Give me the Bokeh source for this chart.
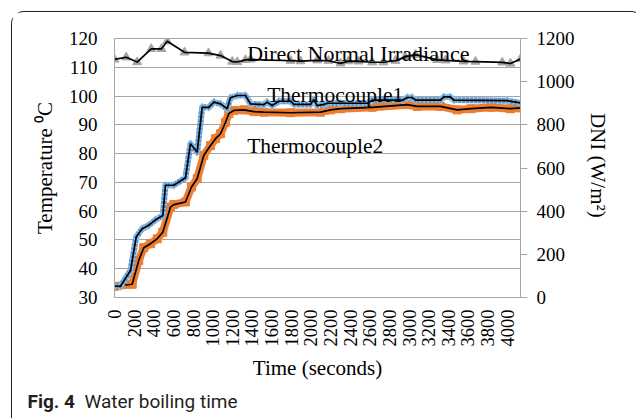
import math
from bokeh.plotting import figure
from bokeh.layouts import column
from bokeh.models import Range1d, LinearAxis, FixedTicker, Label, Div
from bokeh.embed import file_html
from bokeh.resources import INLINE

# ---- data ----
x_ticks = list(range(0, 4001, 200))
temp_ticks = list(range(30, 121, 10))
dni_ticks = list(range(0, 1201, 200))

dni_time = [0, 119, 231, 374, 479, 537, 713, 957, 1080, 1199, 1250, 1334, 1385, 1793, 1895, 2064,
            2180, 2302, 2383, 2485, 2625, 2740, 2862, 2960, 3066, 3287, 3371, 3555, 3677, 3949, 4033, 4135]
dni_values = [1103, 1113, 1091, 1152, 1152, 1187, 1136, 1132, 1121, 1093, 1091, 1101, 1103, 1097, 1095, 1099,
              1097, 1085, 1095, 1094, 1090, 1090, 1097, 1115, 1125, 1101, 1099, 1094, 1093, 1089, 1084, 1105]

tc1_time = [0, 61, 163, 221, 282, 349, 418, 492, 519, 604, 723, 774, 842, 893, 960, 1012, 1080, 1148,
            1181, 1250, 1334, 1385, 1521, 1555, 1606, 1674, 1793, 1827, 1996, 2030, 2064, 2132, 2166,
            2302, 2580, 2625, 2940, 2981, 3030, 3066, 3320, 3354, 3420, 3456, 4000, 4135]
tc1_values = [34.0, 33.9, 39.4, 51.0, 53.9, 55.1, 57.0, 58.5, 69.0, 69.0, 71.6, 83.4, 80.5, 96.1, 96.1,
              97.9, 97.3, 95.6, 99.4, 100.2, 100.2, 97.3, 97.0, 97.9, 96.7, 98.2, 98.2, 97.1, 97.1, 98.7,
              96.7, 97.1, 97.5, 97.5, 97.5, 98.6, 98.6, 99.5, 99.5, 98.6, 98.6, 99.7, 99.7, 98.6, 98.4, 97.6]

tc2_time = [0, 180, 247, 298, 367, 435, 492, 570, 604, 723, 784, 842, 910, 978, 1029, 1080, 1131, 1164,
            1215, 1317, 1420, 1521, 1793, 2098, 2200, 2302, 2625, 2981, 3083, 3320, 3490, 3632, 3836,
            4033, 4135]
tc2_values = [33.9, 34.6, 42.9, 47.3, 48.7, 50.4, 52.7, 61.4, 62.3, 63.2, 68.4, 71.3, 79.4, 82.8, 85.2,
              86.9, 90.9, 93.9, 95.0, 95.2, 94.6, 94.4, 94.2, 94.4, 95.2, 95.6, 96.1, 97.0, 96.4, 96.4,
              95.2, 95.6, 96.1, 95.6, 95.9]

series_labels = ["Direct Normal Irradiance", "Thermocouple1", "Thermocouple2"]
caption_label = "Fig. 4"
caption_text = "Water boiling time"

SERIF = "Liberation Serif"
GRID = "#a6a6a6"

p = figure(width=621, height=372, x_range=Range1d(0, 4135), y_range=Range1d(30, 120),
           output_backend="svg", toolbar_location=None,
           min_border_left=102, min_border_right=113, min_border_top=26, min_border_bottom=87)
p.extra_y_ranges = {"dni": Range1d(0, 1200)}
p.background_fill_color = "white"
p.border_fill_color = "white"
p.outline_line_color = GRID
p.outline_line_width = 1

# left axis
ya = p.yaxis[0]
ya.ticker = FixedTicker(ticks=temp_ticks)
ya.major_tick_out = 0
ya.major_tick_in = 0
ya.minor_tick_line_color = None
ya.axis_line_color = GRID
ya.major_label_text_font = SERIF
ya.major_label_text_font_size = "19px"
ya.major_label_text_color = "black"
ya.major_label_standoff = 17
ya.axis_label = "Temperature \u2070C"
ya.axis_label_text_font = SERIF
ya.axis_label_text_font_style = "normal"
ya.axis_label_text_font_size = "21px"
ya.axis_label_text_color = "black"
ya.axis_label_standoff = 9

# right axis
ra = LinearAxis(y_range_name="dni", ticker=FixedTicker(ticks=dni_ticks))
ra.major_tick_out = 7
ra.major_tick_in = 0
ra.major_tick_line_color = GRID
ra.minor_tick_line_color = None
ra.axis_line_color = GRID
ra.major_label_text_font = SERIF
ra.major_label_text_font_size = "19px"
ra.major_label_text_color = "black"
ra.major_label_standoff = 9
ra.axis_label = "DNI  (W/m\u00b2)"
ra.axis_label_text_font = SERIF
ra.axis_label_text_font_style = "normal"
ra.axis_label_text_font_size = "21px"
ra.axis_label_text_color = "black"
ra.axis_label_standoff = 8
p.add_layout(ra, "right")

# bottom axis
xa = p.xaxis[0]
xa.ticker = FixedTicker(ticks=x_ticks)
xa.major_label_orientation = math.pi / 2
xa.major_tick_out = 0
xa.major_tick_in = 0
xa.minor_tick_line_color = None
xa.axis_line_color = GRID
xa.major_label_text_font = SERIF
xa.major_label_text_font_size = "18.5px"
xa.major_label_text_color = "black"
xa.major_label_standoff = 12
xa.axis_label = "Time (seconds)"
xa.axis_label_text_font = SERIF
xa.axis_label_text_font_style = "normal"
xa.axis_label_text_font_size = "21px"
xa.axis_label_text_color = "black"
xa.axis_label_standoff = 6

p.xgrid.grid_line_color = None
p.ygrid.ticker = FixedTicker(ticks=temp_ticks)
p.ygrid.grid_line_color = GRID
p.ygrid.grid_line_width = 1

# Thermocouple2 (orange squares + black line)
p.line(tc2_time, tc2_values, line_color="#ed7d31", line_width=8, line_join="round")
p.scatter(tc2_time, tc2_values, marker="square", size=8, fill_color="#ed7d31", line_color="#ed7d31")
p.line(tc2_time, tc2_values, line_color="black", line_width=1.7)

# Thermocouple1 (blue diamonds + black line)
p.line(tc1_time, tc1_values, line_color="#5b9bd5", line_width=6, line_join="round")
p.line(tc1_time, tc1_values, line_color="#dbe8f6", line_width=6, line_dash="1 3", line_alpha=0.7)
p.scatter(tc1_time, tc1_values, marker="diamond", size=8, fill_color="#5b9bd5", line_color="#9cc3e6")
p.line(tc1_time, tc1_values, line_color="black", line_width=1.7)

# DNI (grey triangles + black line)
p.scatter(dni_time, dni_values, y_range_name="dni", marker="triangle", size=9,
          fill_color="#a5a5a5", line_color="#a5a5a5")
p.line(dni_time, dni_values, y_range_name="dni", line_color="black", line_width=1.7)

# in-plot series labels
for txt, lx, ly, fs in [(series_labels[0], 1351, 114.7, "22px"), (series_labels[1], 1555, 100.2, "21.5px"),
                        (series_labels[2], 1351, 82.6, "21.5px")]:
    p.add_layout(Label(x=lx, y=ly, text=txt, text_font=SERIF, text_font_size=fs,
                       text_color="black", text_baseline="alphabetic"))

# figure caption (below the chart, inside the framed box)
cap = Div(text=f"<b>{caption_label}</b>&nbsp;&nbsp;{caption_text}", width=621, height=34,
          styles={"font-family": "Roboto", "font-size": "19px", "color": "#231f20",
                  "padding-left": "11px", "padding-top": "1px", "line-height": "normal",
                  "box-sizing": "border-box", "background": "white"})

layout = column(p, cap, spacing=0,
                styles={"position": "relative", "left": "10.5px", "top": "10.5px",
                        "border": "1.5px solid #231f20", "border-bottom": "none",
                        "border-radius": "13px 13px 0 0", "background": "white"})

open("out.html", "w").write(file_html(layout, INLINE))
